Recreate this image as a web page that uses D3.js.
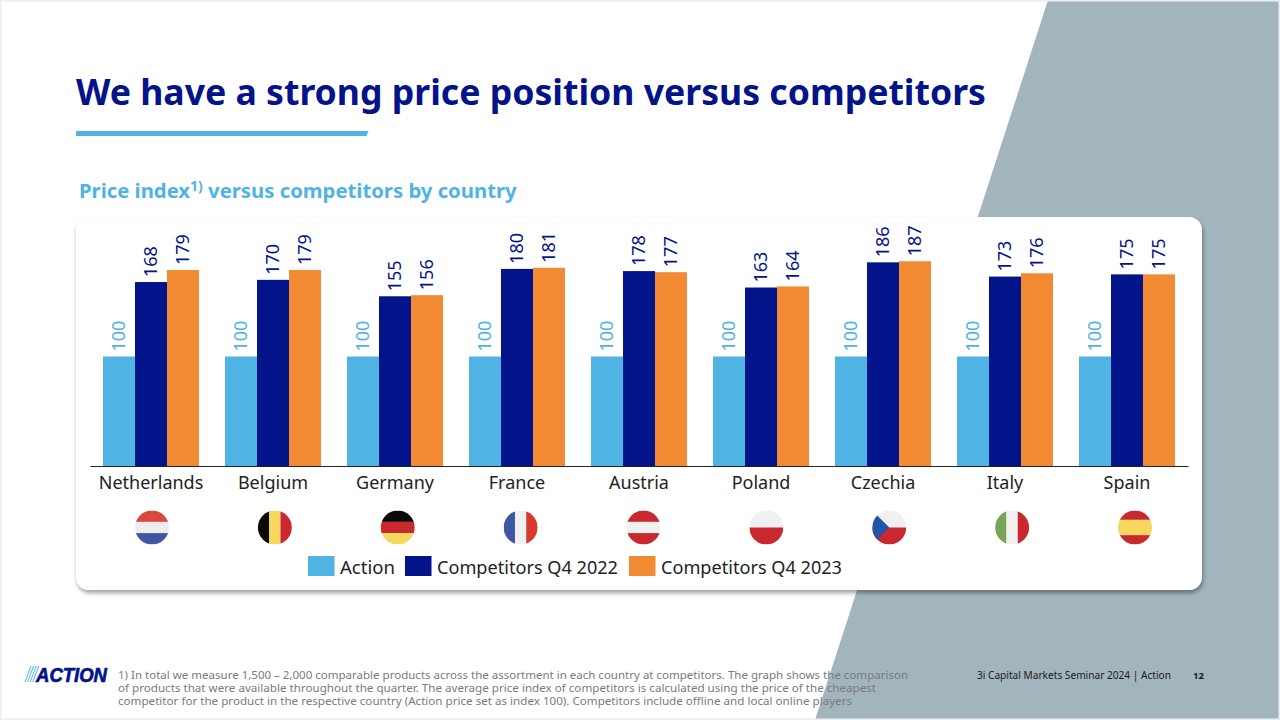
<!DOCTYPE html>
<html><head><meta charset="utf-8">
<script src="https://cdn.jsdelivr.net/npm/d3@7"></script>
<style>html,body{margin:0;padding:0;background:#fff}svg{display:block}text{font-family:"Noto Sans",sans-serif}</style>
</head><body><svg id="c" width="1280" height="720"></svg>
<script>
const countries=["Netherlands","Belgium","Germany","France","Austria","Poland","Czechia","Italy","Spain"];
const seriesNames=["Action","Competitors Q4 2022","Competitors Q4 2023"];
const action=[100,100,100,100,100,100,100,100,100];
const q2022=[168,170,155,180,178,163,186,173,175];
const q2023=[179,179,156,181,177,164,187,176,175];
const seriesColors=["#4fb3e4","#03138a","#f28a33"];
const labelColors=["#4fb3e4","#03138a","#03138a"];
const footnote=["1) In total we measure 1,500 – 2,000 comparable products across the assortment in each country at competitors. The graph shows the comparison",
"of products that were available throughout the quarter. The average price index of competitors is calculated using the price of the cheapest",
"competitor for the product in the respective country (Action price set as index 100). Competitors include offline and local online players"];
const series=[action,q2022,q2023];

const svg=d3.select("#c");
const defs=svg.append("defs");
const sh=defs.append("filter").attr("id","sh").attr("x","-5%").attr("y","-5%").attr("width","110%").attr("height","112%");
sh.append("feDropShadow").attr("dx",1).attr("dy",3).attr("stdDeviation",2.2).attr("flood-color","#000").attr("flood-opacity",0.38);

// background
svg.append("rect").attr("width",1280).attr("height",720).attr("fill","#fff");
svg.append("path").attr("d","M1048,0L1280,0L1280,720L815,720Z").attr("fill","#a2b5bd");
svg.append("rect").attr("x",.5).attr("y",.5).attr("width",1279).attr("height",719).attr("fill","none").attr("stroke","#eeeeee").attr("stroke-width",2);

// title
svg.append("text").attr("x",76).attr("y",105).attr("font-size",35).attr("font-weight",700).attr("fill","#03138a")
  .attr("textLength",910).attr("lengthAdjust","spacingAndGlyphs").text("We have a strong price position versus competitors");
svg.append("path").attr("d","M76,131L368.5,131L366.5,136L76,136Z").attr("fill","#4fb3e4");
const sub=svg.append("text").attr("x",79).attr("y",198).attr("font-size",20.3).attr("font-weight",700).attr("fill","#4fb3e4");
sub.append("tspan").text("Price index");
sub.append("tspan").attr("font-size",14).attr("dy",-7).text("1)");
sub.append("tspan").attr("dy",7).text(" versus competitors by country");

// panel
svg.append("rect").attr("x",76).attr("y",217).attr("width",1126).attr("height",373).attr("rx",13).attr("fill","#fff").attr("filter","url(#sh)");

// scales
const x=d3.scaleBand().domain(countries).range([90,1188]).paddingInner(26/122).paddingOuter(13/122);
const xs=d3.scaleBand().domain(seriesNames).range([0,x.bandwidth()]);
const y=d3.scaleLinear().domain([0,187]).range([466,466-187*1.095]);

const g=svg.append("g");
seriesNames.forEach((s,si)=>{
  const rows=countries.map((c,i)=>({c,v:series[si][i]}));
  g.selectAll(null).data(rows).join("rect")
    .attr("x",d=>x(d.c)+xs(s)).attr("width",xs.bandwidth())
    .attr("y",d=>y(d.v)).attr("height",d=>y(0)-y(d.v)).attr("fill",seriesColors[si]);
  g.selectAll(null).data(rows).join("text")
    .attr("transform",d=>`translate(${x(d.c)+xs(s)+xs.bandwidth()/2+6},${y(d.v)-5}) rotate(-90)`)
    .attr("font-size",18).attr("fill",labelColors[si]).text(d=>d.v);
});

// axis
const ax=svg.append("g").attr("transform","translate(0,466)").call(d3.axisBottom(x).tickSize(0).tickPadding(10));
ax.select(".domain").attr("stroke","#222").attr("stroke-width",1.2);
ax.selectAll("text").attr("font-size",18).attr("fill","#222").attr("font-family",'"Noto Sans",sans-serif');

// flags
const fx=d3.scalePoint().domain(countries).range([152,1135]);
const R=17,FY=527.5;
const flagParts={
 Netherlands:[["h",-1,-.33,"#d9483b"],["h",-.33,.33,"#eeeeee"],["h",.33,1,"#3f56a5"]],
 Belgium:[["v",-1,-.33,"#0a0a0a"],["v",-.33,.33,"#f7d75e"],["v",.33,1,"#c8282e"]],
 Germany:[["h",-1,-.33,"#0a0a0a"],["h",-.33,.33,"#c8282e"],["h",.33,1,"#f7d75e"]],
 France:[["v",-1,-.33,"#3f56a5"],["v",-.33,.33,"#f0f0f0"],["v",.33,1,"#d9382e"]],
 Austria:[["h",-1,-.33,"#c8282e"],["h",-.33,.33,"#f0f0f0"],["h",.33,1,"#c8282e"]],
 Poland:[["h",-1,0,"#f0f0f0"],["h",0,1,"#c8282e"]],
 Czechia:[["h",-1,0,"#f0f0f0"],["h",0,1,"#c8282e"],["t",0,0,"#2353ab"]],
 Italy:[["v",-1,-.33,"#78a455"],["v",-.33,.33,"#f0f0f0"],["v",.33,1,"#c8282e"]],
 Spain:[["h",-1,-.45,"#c8282e"],["h",-.45,.45,"#f7d75e"],["h",.45,1,"#c8282e"]]
};
countries.forEach((c,i)=>{
  const id="fc"+i;
  defs.append("clipPath").attr("id",id).append("circle").attr("r",R);
  const f=svg.append("g").attr("transform",`translate(${fx(c)},${FY})`).attr("clip-path",`url(#${id})`);
  flagParts[c].forEach(p=>{
    if(p[0]==="h")f.append("rect").attr("x",-R).attr("width",2*R).attr("y",p[1]*R).attr("height",(p[2]-p[1])*R).attr("fill",p[3]);
    else if(p[0]==="v")f.append("rect").attr("y",-R).attr("height",2*R).attr("x",p[1]*R).attr("width",(p[2]-p[1])*R).attr("fill",p[3]);
    else f.append("path").attr("d",`M${-R},${-R}L0,0L${-R},${R}Z`).attr("fill",p[3]);
  });
});

// legend
const legX=[308,405,629];
const legW=[55,181,181];
const leg=svg.append("g");
seriesNames.forEach((s,i)=>{
  leg.append("rect").attr("x",legX[i]).attr("y",556).attr("width",26.5).attr("height",20).attr("fill",seriesColors[i]);
  leg.append("text").attr("x",legX[i]+32).attr("y",574).attr("font-size",18.5).attr("fill","#222")
    .attr("textLength",legW[i]).attr("lengthAdjust","spacingAndGlyphs").text(s);
});

// logo
const logo=svg.append("g");
[0,1,2,3].forEach(i=>logo.append("path").attr("d",`M${25+i*2.6},682L${31+i*2.6},666`).attr("stroke","#4fb3e4").attr("stroke-width",1));
logo.append("text").attr("x",36).attr("y",682).attr("font-size",21).attr("font-weight",900).attr("font-style","italic").attr("fill","#03138a")
  .attr("textLength",71).attr("lengthAdjust","spacingAndGlyphs").style("font-family","'Liberation Sans',sans-serif").style("stroke","#03138a").style("stroke-width",.7).text("ACTION");

// footnote
const fnY=[679,692,705],fnW=[790,758,734];
footnote.forEach((t,i)=>svg.append("text").attr("x",118).attr("y",fnY[i]).attr("font-size",11.5).attr("fill","#7a7a7a")
  .attr("textLength",fnW[i]).attr("lengthAdjust","spacingAndGlyphs").text(t));
svg.append("text").attr("x",977).attr("y",679).attr("font-size",11).attr("fill","#1a1a1a").attr("textLength",194).attr("lengthAdjust","spacingAndGlyphs").text("3i Capital Markets Seminar 2024 | Action");
svg.append("text").attr("x",1193).attr("y",679).attr("font-size",9.5).attr("font-weight",700).attr("fill","#1a1a1a").text("12");
</script></body></html>
